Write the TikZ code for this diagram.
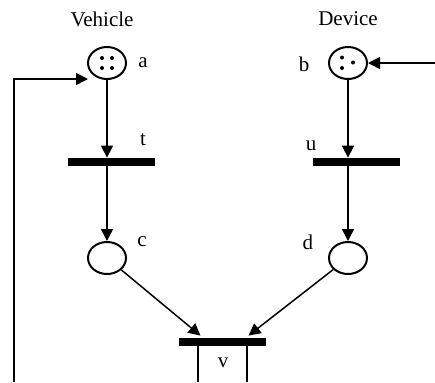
\documentclass[tikz,border=0pt]{standalone}
\usepackage{fontspec}
\setmainfont{Liberation Serif}
\usetikzlibrary{calc,shapes.geometric,arrows.meta}

\begin{document}
\begin{tikzpicture}[x=0.5pt,y=-0.5pt,font=\fontsize{10.5}{12}\selectfont]

\tikzstyle{pnplace} = [ellipse,draw=black,line width=1pt,inner sep=0,minimum width=19pt,minimum height=16pt]%
\tikzstyle{pntrans} = [rectangle,fill=black,inner sep=0,minimum width=43.5pt,minimum height=4pt]%
\tikzstyle{pnarc} = [-{Triangle[length=6pt,width=6pt]},line width=0.75pt]%
\tikzstyle{pnline} = [line width=0.75pt]%
\tikzstyle{pnlabel} = [inner sep=0]%

\useasboundingbox (0,0) rectangle (435,382);

\node[pnlabel] (veh) at (102, 19) {Vehicle};
\node[pnlabel] (dev) at (348, 19) {Device};

\node[pnplace] (a) at (107, 63) {};
\node[pnplace] (b) at (348, 63) {};
\node[pntrans] (t) at (111.5, 162) {};
\node[pntrans] (u) at (356, 162) {};
\node[pnplace] (c) at (107, 258) {};
\node[pnplace] (d) at (348, 258) {};
\node[pntrans] (v) at (222.5, 342) {};

\node[pnlabel] (la) at (143, 63) {a};
\node[pnlabel] (lb) at (304, 64) {b};
\node[pnlabel] (lt) at (143, 140) {t};
\node[pnlabel] (lu) at (311, 146) {u};
\node[pnlabel] (lc) at (142, 242) {c};
\node[pnlabel] (ld) at (308, 242) {d};
\node[pnlabel] (lv) at (223, 363) {v};

% tokens
\foreach \dx/\dy in {-5/-5, 5/-5, -5/5, 5/5}
    \fill ($(a)+(\dx,\dy)$) circle (2);
\foreach \dx/\dy in {-6/-5.5, 5/-0.5, -6/5}
    \fill ($(b)+(\dx,\dy)$) circle (2);

\coordinate (back) at (14, 382);
\coordinate (fromright) at (435, 63);
\coordinate (vl) at (198, 382);
\coordinate (vr) at (247, 382);

\draw[pnarc] (a.south) -- (a.south |- t.north);
\draw[pnarc] (c |- t.south) -- (c.north);
\draw[pnarc] (b.south) -- (b.south |- u.north);
\draw[pnarc] (d |- u.south) -- (d.north);

\draw[pnarc] (c) -- ($(v.north)+(-22,-2)$);
\draw[pnarc] (d) -- ($(v.north)+(26,-2)$);

\draw[pnline] (vl |- v.south) -- (vl);
\draw[pnline] (vr |- v.south) -- (vr);

\draw[pnarc] (back) |- ($(a.west)+(1,16)$);
\draw[pnarc] (fromright) -- (b);

\end{tikzpicture}
\end{document}
